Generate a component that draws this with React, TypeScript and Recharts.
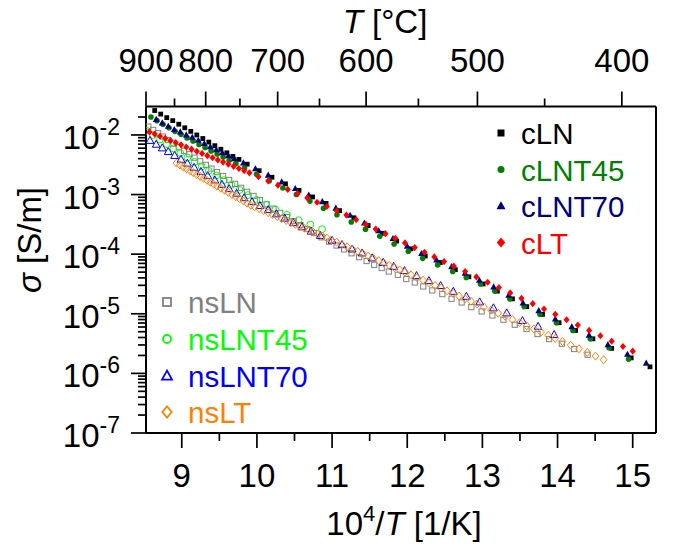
import React from 'react';
import { ScatterChart, Scatter, XAxis, YAxis, ReferenceLine } from 'recharts';

const FONT = '"Liberation Sans", Arial, Helvetica, sans-serif';
const W = 678;
const H = 545;

// x: 10^4/T [1/K]; y: log10(sigma [S/m])
const X_MIN = 1e4 / (900 + 273.15);
const X_MAX = 15.31;
const Y_MIN = -7;
const Y_MAX = Math.log10(0.03);

const xMajorTicks = [9, 10, 11, 12, 13, 14, 15];
const xMinorTicks = [9.5, 10.5, 11.5, 12.5, 13.5, 14.5];
const topMajorC = [900, 800, 700, 600, 500, 400];
const topMinorC = [850, 750, 650, 550, 450];
const yMajorExp = [-7, -6, -5, -4, -3, -2];
const yMinorMult = [2, 3, 4, 5, 6, 7, 8, 9];

// [10^4/T, log10(sigma)]
const cLN = [
  [8.64, -1.59], [8.72, -1.65], [8.8, -1.71], [8.88, -1.76], [8.96, -1.82], [9.04, -1.88], [9.12, -1.94], [9.2, -2.0],
  [9.28, -2.06], [9.36, -2.12], [9.44, -2.18], [9.52, -2.24], [9.6, -2.3], [9.68, -2.36], [9.76, -2.41], [9.87, -2.49],
  [10.03, -2.6], [10.2, -2.71], [10.38, -2.82], [10.56, -2.93], [10.74, -3.04], [10.92, -3.15], [11.1, -3.27], [11.29, -3.39],
  [11.48, -3.52], [11.67, -3.65], [11.86, -3.78], [12.05, -3.91], [12.24, -4.03], [12.44, -4.14], [12.64, -4.26], [12.82, -4.38],
  [13.01, -4.5], [13.2, -4.62], [13.4, -4.75], [13.59, -4.88], [13.8, -5.01], [14.02, -5.15], [14.24, -5.28], [14.47, -5.42],
  [14.72, -5.58], [14.98, -5.74], [15.23, -5.89],
];
const cLNT45 = [
  [8.59, -1.7], [8.67, -1.76], [8.75, -1.82], [8.83, -1.88], [8.91, -1.94], [8.99, -1.99], [9.07, -2.05], [9.15, -2.1],
  [9.23, -2.16], [9.31, -2.21], [9.39, -2.27], [9.47, -2.32], [9.55, -2.37], [9.63, -2.43], [9.72, -2.48], [9.835, -2.55],
  [9.995, -2.66], [10.165, -2.77], [10.345, -2.89], [10.525, -3.0], [10.705, -3.11], [10.885, -3.23], [11.065, -3.34],
  [11.255, -3.46], [11.445, -3.58], [11.635, -3.7], [11.825, -3.83], [12.015, -3.95], [12.205, -4.07], [12.405, -4.18],
  [12.605, -4.29], [12.785, -4.39], [12.975, -4.5], [13.165, -4.62], [13.365, -4.75], [13.555, -4.88], [13.765, -5.01],
  [13.985, -5.15], [14.205, -5.28], [14.435, -5.42], [14.685, -5.57], [14.945, -5.76],
];
const cLNT70 = [
  [8.66, -1.74], [8.74, -1.8], [8.82, -1.855], [8.9, -1.91], [8.98, -1.95], [9.06, -2.0], [9.14, -2.04], [9.22, -2.09],
  [9.3, -2.145], [9.38, -2.2], [9.46, -2.25], [9.54, -2.3], [9.62, -2.35], [9.7, -2.4], [9.82, -2.47], [9.98, -2.57],
  [10.15, -2.675], [10.33, -2.79], [10.51, -2.9], [10.69, -3.01], [10.87, -3.12], [11.05, -3.23], [11.24, -3.35],
  [11.43, -3.48], [11.62, -3.61], [11.81, -3.74], [12.0, -3.87], [12.19, -3.99], [12.39, -4.1], [12.59, -4.21],
  [12.77, -4.32], [12.96, -4.44], [13.15, -4.55], [13.35, -4.69], [13.54, -4.82], [13.75, -4.95], [13.97, -5.09],
  [14.19, -5.22], [14.42, -5.36], [14.67, -5.52], [14.93, -5.68], [15.18, -5.83],
];
const cLT = [
  [8.57, -1.95], [8.64, -1.986], [8.71, -2.022], [8.78, -2.058], [8.85, -2.094], [8.92, -2.13], [8.99, -2.166],
  [9.06, -2.202], [9.13, -2.238], [9.2, -2.274], [9.27, -2.31], [9.34, -2.347], [9.41, -2.383], [9.48, -2.419],
  [9.55, -2.455], [9.62, -2.491], [9.69, -2.527], [9.76, -2.563], [9.83, -2.599], [9.9, -2.635], [10.02, -2.7],
  [10.15, -2.771], [10.28, -2.843], [10.41, -2.914], [10.54, -2.986], [10.67, -3.057], [10.8, -3.129], [10.93, -3.2],
  [11.06, -3.272], [11.19, -3.345], [11.32, -3.423], [11.45, -3.501], [11.58, -3.579], [11.71, -3.656], [11.84, -3.734],
  [11.97, -3.812], [12.1, -3.89], [12.23, -3.968], [12.36, -4.046], [12.49, -4.124], [12.62, -4.202], [12.77, -4.291],
  [12.92, -4.381], [13.07, -4.471], [13.22, -4.561], [13.37, -4.651], [13.52, -4.741], [13.67, -4.831], [13.82, -4.92],
  [13.97, -5.01], [14.12, -5.1], [14.27, -5.19], [14.42, -5.28], [14.57, -5.369], [14.72, -5.459], [14.87, -5.549],
  [15.0, -5.627],
];
const nsLN = [
  [8.555, -1.86], [8.62, -1.916], [8.685, -1.971], [8.75, -2.027], [8.82, -2.086], [8.89, -2.146], [8.96, -2.206],
  [9.03, -2.266], [9.1, -2.324], [9.17, -2.381], [9.245, -2.442], [9.32, -2.503], [9.395, -2.564], [9.47, -2.624],
  [9.55, -2.689], [9.63, -2.755], [9.71, -2.821], [9.79, -2.887], [9.87, -2.953], [9.955, -3.023], [10.04, -3.092],
  [10.13, -3.164], [10.22, -3.236], [10.31, -3.308], [10.4, -3.38], [10.49, -3.446], [10.58, -3.512], [10.67, -3.578],
  [10.76, -3.644], [10.86, -3.717], [10.96, -3.79], [11.06, -3.855], [11.16, -3.92], [11.26, -3.985], [11.36, -4.05],
  [11.46, -4.115], [11.56, -4.178], [11.66, -4.233], [11.755, -4.291], [11.875, -4.346], [11.987, -4.418], [12.1, -4.475],
  [12.213, -4.542], [12.333, -4.609], [12.467, -4.67], [12.59, -4.748], [12.724, -4.81], [12.853, -4.888], [12.99, -4.961],
  [13.133, -5.028], [13.28, -5.1], [13.431, -5.184], [13.587, -5.256], [13.733, -5.34], [13.888, -5.424], [14.057, -5.503],
  [14.221, -5.591], [14.4, -5.687],
];
const nsLNT45 = [
  [8.533, -1.93], [8.62, -2.003], [8.71, -2.078], [8.8, -2.153], [8.89, -2.228], [8.98, -2.303], [9.075, -2.379],
  [9.17, -2.453], [9.265, -2.528], [9.36, -2.602], [9.46, -2.68], [9.56, -2.759], [9.66, -2.837], [9.77, -2.923],
  [9.88, -3.009], [9.995, -3.09], [10.12, -3.17], [10.245, -3.251], [10.4, -3.34], [10.555, -3.43], [10.711, -3.505],
  [10.867, -3.58],
];
const nsLNT70 = [
  [8.577, -2.095], [8.66, -2.159], [8.74, -2.22], [8.82, -2.282], [8.905, -2.347], [8.99, -2.412], [9.075, -2.477],
  [9.165, -2.547], [9.255, -2.616], [9.345, -2.685], [9.44, -2.758], [9.535, -2.831], [9.63, -2.904], [9.73, -2.981],
  [9.83, -3.056], [9.935, -3.122], [10.04, -3.188], [10.15, -3.256], [10.26, -3.327], [10.37, -3.4], [10.485, -3.475],
  [10.6, -3.544], [10.72, -3.616], [10.844, -3.69], [11.0, -3.77], [11.133, -3.843], [11.267, -3.916], [11.4, -3.983],
  [11.533, -4.066], [11.68, -4.14], [11.82, -4.207], [11.964, -4.279], [12.124, -4.363], [12.288, -4.447], [12.444, -4.53],
  [12.613, -4.626], [12.787, -4.71], [12.964, -4.804], [13.147, -4.904], [13.324, -4.988], [13.533, -5.117],
  [13.741, -5.213], [13.955, -5.352],
];
const nsLT = [
  [8.93, -2.472], [8.975, -2.504], [9.02, -2.536], [9.065, -2.568], [9.11, -2.601], [9.155, -2.633], [9.2, -2.665],
  [9.245, -2.697], [9.29, -2.729], [9.335, -2.761], [9.38, -2.794], [9.425, -2.826], [9.47, -2.858], [9.52, -2.894],
  [9.57, -2.929], [9.62, -2.965], [9.67, -3.001], [9.72, -3.037], [9.77, -3.072], [9.82, -3.108], [9.87, -3.144],
  [9.92, -3.178], [9.97, -3.206], [10.03, -3.238], [10.09, -3.271], [10.15, -3.304], [10.21, -3.337], [10.27, -3.369],
  [10.33, -3.402], [10.39, -3.435], [10.45, -3.467], [10.51, -3.5], [10.57, -3.533], [10.63, -3.565], [10.69, -3.598],
  [10.75, -3.631], [10.81, -3.664], [10.87, -3.696], [10.93, -3.729], [10.99, -3.762], [11.06, -3.8], [11.13, -3.838],
  [11.2, -3.876], [11.27, -3.914], [11.34, -3.953], [11.41, -3.992], [11.48, -4.031], [11.55, -4.07], [11.62, -4.109],
  [11.69, -4.148], [11.76, -4.186], [11.83, -4.225], [11.9, -4.264], [11.97, -4.303], [12.05, -4.347], [12.13, -4.392],
  [12.21, -4.436], [12.29, -4.481], [12.37, -4.525], [12.45, -4.569], [12.53, -4.614], [12.61, -4.658], [12.69, -4.703],
  [12.77, -4.747], [12.85, -4.791], [12.93, -4.836], [13.02, -4.886], [13.115, -4.938], [13.21, -4.991], [13.305, -5.044],
  [13.4, -5.097], [13.495, -5.149], [13.59, -5.202], [13.685, -5.255], [13.78, -5.307], [13.875, -5.36], [13.97, -5.413],
  [14.065, -5.466], [14.175, -5.527], [14.285, -5.588], [14.395, -5.649], [14.505, -5.71], [14.613, -5.771],
];

type Kind = 'square' | 'circle' | 'triangle' | 'diamond';

function markerEl(kind: Kind, cx: number, cy: number, size: number, color: string, filled: boolean, sw: number, key?: any) {
  const fill = filled ? color : 'none';
  const stroke = filled ? 'none' : color;
  switch (kind) {
    case 'square':
      return <rect key={key} x={cx - size / 2} y={cy - size / 2} width={size} height={size} fill={fill} stroke={stroke} strokeWidth={sw} />;
    case 'circle':
      return <circle key={key} cx={cx} cy={cy} r={size / 2} fill={fill} stroke={stroke} strokeWidth={sw} />;
    case 'triangle': {
      const h = size * 0.9;
      return (
        <polygon key={key}
          points={`${cx},${cy - h * 0.6} ${cx - size / 2},${cy + h * 0.4} ${cx + size / 2},${cy + h * 0.4}`}
          fill={fill} stroke={stroke} strokeWidth={sw} strokeLinejoin="miter" />
      );
    }
    default: {
      const w = (size / 2) * 0.85;
      const h = size / 2;
      return (
        <polygon key={key}
          points={`${cx},${cy - h} ${cx + w},${cy} ${cx},${cy + h} ${cx - w},${cy}`}
          fill={fill} stroke={stroke} strokeWidth={sw} />
      );
    }
  }
}

const seriesList: { name: string; data: number[][]; kind: Kind; color: string; filled: boolean; size: number; lsize: number }[] = [
  { name: 'nsLN', data: nsLN, kind: 'square', color: '#808080', filled: false, size: 5.2, lsize: 8 },
  { name: 'nsLNT45', data: nsLNT45, kind: 'circle', color: '#00ff00', filled: false, size: 6.8, lsize: 8 },
  { name: 'nsLNT70', data: nsLNT70, kind: 'triangle', color: '#0000ff', filled: false, size: 7.8, lsize: 10 },
  { name: 'nsLT', data: nsLT, kind: 'diamond', color: '#ff8000', filled: false, size: 8, lsize: 11 },
  { name: 'cLN', data: cLN, kind: 'square', color: '#000000', filled: true, size: 4.8, lsize: 7 },
  { name: 'cLNT45', data: cLNT45, kind: 'circle', color: '#008000', filled: true, size: 5.6, lsize: 7 },
  { name: 'cLNT70', data: cLNT70, kind: 'triangle', color: '#000080', filled: true, size: 6.8, lsize: 9 },
  { name: 'cLT', data: cLT, kind: 'diamond', color: '#ff0000', filled: true, size: 7.2, lsize: 10 },
];

const xTicks = [...xMajorTicks, ...xMinorTicks].sort((a, b) => a - b);
const topTicks = [...topMajorC, ...topMinorC].map((c) => 1e4 / (c + 273.15)).sort((a, b) => a - b);
const yTicks: number[] = [];
yMajorExp.forEach((n) => {
  yTicks.push(n);
  yMinorMult.forEach((k) => {
    const v = n + Math.log10(k);
    if (v < Y_MAX - 0.02) yTicks.push(v);
  });
});
yTicks.sort((a, b) => a - b);

const TICK_W = 1.7;
const LABEL_FS = 33;

const BottomTick = (props: any) => {
  const { x, y, payload } = props;
  const v = payload.value;
  const major = Math.abs(v - Math.round(v)) < 1e-6;
  return (
    <g>
      <line x1={x} y1={y} x2={x} y2={y + (major ? 15 : 8)} stroke="#000" strokeWidth={TICK_W} />
      {major && (
        <text x={x} y={y + 54} textAnchor="middle" fontSize={LABEL_FS} fontFamily={FONT} fill="#000">
          {Math.round(v)}
        </text>
      )}
    </g>
  );
};

const TopTick = (props: any) => {
  const { x, y, payload } = props;
  const c = Math.round(1e4 / payload.value - 273.15);
  const major = c % 100 === 0;
  return (
    <g>
      <line x1={x} y1={y} x2={x} y2={y - (major ? 15 : 8)} stroke="#000" strokeWidth={TICK_W} />
      {major && (
        <text x={x} y={y - 35} textAnchor="middle" fontSize={LABEL_FS} fontFamily={FONT} fill="#000">
          {c}
        </text>
      )}
    </g>
  );
};

const LeftTick = (props: any) => {
  const { x, y, payload } = props;
  const v = payload.value;
  const major = Math.abs(v - Math.round(v)) < 1e-6;
  return (
    <g>
      <line x1={x} y1={y} x2={x - (major ? 15 : 8)} y2={y} stroke="#000" strokeWidth={TICK_W} />
      {major && (
        <text x={x - 26} y={y + 14} textAnchor="end" fontSize={LABEL_FS} fontFamily={FONT} fill="#000">
          <tspan>10</tspan>
          <tspan fontSize={23} dy={-14}>{`-${Math.abs(Math.round(v))}`}</tspan>
        </text>
      )}
    </g>
  );
};

const legendTop = ['cLN', 'cLNT45', 'cLNT70', 'cLT'];
const legendBottom = ['nsLN', 'nsLNT45', 'nsLNT70', 'nsLT'];
const legendTopRows = [133, 169.5, 206, 242.5];
const legendBottomRows = [302, 339, 376, 412];

export default function App() {
  const axisLine = { stroke: '#000', strokeWidth: 2 };
  return (
    <div style={{ position: 'absolute', left: 0, top: 0, width: W, height: H, background: '#fff' }}>
      <ScatterChart width={W} height={H} margin={{ top: 0, right: 22, bottom: 0, left: 0 }}>
        <XAxis
          xAxisId="top" orientation="top" type="number" dataKey="x"
          domain={[X_MIN, X_MAX]} allowDataOverflow ticks={topTicks} interval={0}
          tick={(p: any) => <TopTick {...p} />} tickLine={false} tickSize={0} tickMargin={0}
          height={106.5} axisLine={axisLine}
        />
        <XAxis
          xAxisId="b" orientation="bottom" type="number" dataKey="x"
          domain={[X_MIN, X_MAX]} allowDataOverflow ticks={xTicks} interval={0}
          tick={(p: any) => <BottomTick {...p} />} tickLine={false} tickSize={0} tickMargin={0}
          height={112} axisLine={axisLine}
        />
        <YAxis
          yAxisId="l" orientation="left" type="number" dataKey="y"
          domain={[Y_MIN, Y_MAX]} allowDataOverflow ticks={yTicks} interval={0}
          tick={(p: any) => <LeftTick {...p} />} tickLine={false} tickSize={0} tickMargin={0}
          width={146} axisLine={axisLine}
        />
        <ReferenceLine xAxisId="b" yAxisId="l" x={X_MAX} stroke="#000" strokeWidth={2} />
        {seriesList.map((s) => (
          <Scatter
            key={s.name}
            name={s.name}
            xAxisId="b"
            yAxisId="l"
            data={s.data.map(([x, y]) => ({ x, y }))}
            isAnimationActive={false}
            shape={(p: any) => markerEl(s.kind, p.cx, p.cy, s.size, s.color, s.filled, 1)}
          />
        ))}
      </ScatterChart>
      <svg width={W} height={H} style={{ position: 'absolute', left: 0, top: 0, pointerEvents: 'none' }}>
        <text x={385} y={33} textAnchor="middle" fontSize={LABEL_FS} fontFamily={FONT} fill="#000">
          <tspan fontStyle="italic">T</tspan>
          <tspan>{' [°C]'}</tspan>
        </text>
        <text x={404} y={535} textAnchor="middle" fontSize={LABEL_FS} fontFamily={FONT} fill="#000">
          <tspan>10</tspan>
          <tspan fontSize={22} dy={-14}>4</tspan>
          <tspan dy={14}>/</tspan>
          <tspan fontStyle="italic">T</tspan>
          <tspan>{' [1/K]'}</tspan>
        </text>
        <text transform="translate(41,240) rotate(-90)" textAnchor="middle" fontSize={LABEL_FS} fontFamily={FONT} fill="#000">
          <tspan fontStyle="italic">σ</tspan>
          <tspan>{' [S/m]'}</tspan>
        </text>
        {legendTop.map((n, i) => {
          const s = seriesList.find((q) => q.name === n)!;
          const cy = legendTopRows[i];
          return (
            <g key={n}>
              {markerEl(s.kind, 501, cy, s.lsize, s.color, s.filled, 1.8)}
              <text x={521} y={cy + 11} fontSize={29.5} fontFamily={FONT} fill={s.color}>{n}</text>
            </g>
          );
        })}
        {legendBottom.map((n, i) => {
          const s = seriesList.find((q) => q.name === n)!;
          const cy = legendBottomRows[i];
          return (
            <g key={n}>
              {markerEl(s.kind, 167, cy, s.lsize, s.color, s.filled, 1.8)}
              <text x={188} y={cy + 11} fontSize={29.5} fontFamily={FONT} fill={s.color}>{n}</text>
            </g>
          );
        })}
      </svg>
    </div>
  );
}
